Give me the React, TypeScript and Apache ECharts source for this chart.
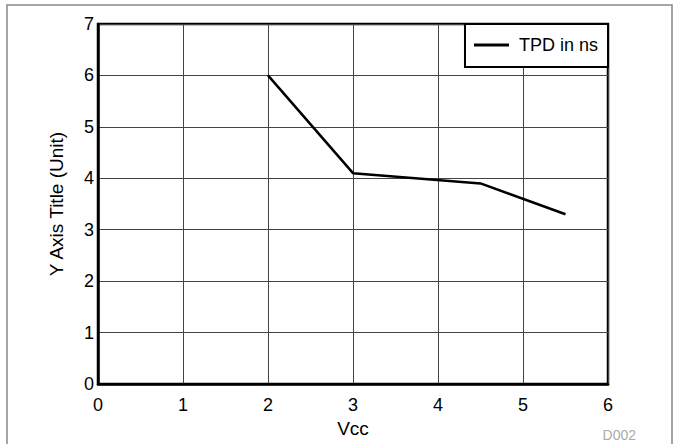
import React, { useEffect, useRef } from "react";
import * as echarts from "echarts";

const xValues = [2, 3, 4.5, 5.5];
const tpdValues = [6.0, 4.1, 3.9, 3.3];
const seriesName = "TPD in ns";
const xAxisTitle = "Vcc";
const yAxisTitle = "Y Axis Title (Unit)";
const figureId = "D002";

const FONT = "'Liberation Sans', Arial, Helvetica, sans-serif";

export default function App() {
  const ref = useRef<HTMLDivElement>(null);
  useEffect(() => {
    if (!ref.current) return;
    const chart = echarts.init(ref.current, null, { renderer: "svg" });
    const data = xValues.map((x, i) => [x, tpdValues[i]]);
    chart.setOption({
      animation: false,
      backgroundColor: "#fff",
      textStyle: { fontFamily: FONT },
      grid: {
        left: 98,
        right: 66,
        top: 24,
        bottom: 60,
        show: true,
        borderColor: "#000",
        borderWidth: 2.5,
        backgroundColor: "transparent",
      },
      legend: {
        right: 66,
        top: 24,
        orient: "vertical",
        backgroundColor: "#fff",
        borderColor: "#000",
        borderWidth: 2,
        borderRadius: 0,
        padding: [11, 10, 12, 9],
        itemWidth: 35,
        itemHeight: 3,
        itemGap: 0,
        icon: "rect",
        textStyle: {
          fontFamily: FONT,
          fontSize: 18,
          color: "#000",
          lineHeight: 20,
          padding: [0, 0, 0, 5],
        },
        data: [{ name: seriesName, itemStyle: { color: "#000" } }],
      },
      xAxis: {
        type: "value",
        min: 0,
        max: 6,
        interval: 1,
        name: xAxisTitle,
        nameLocation: "middle",
        nameGap: 27,
        nameTextStyle: { fontFamily: FONT, fontSize: 19, color: "#000" },
        axisLine: { show: true, lineStyle: { color: "#000", width: 2.5 } },
        axisTick: { show: false },
        axisLabel: { margin: 12, fontFamily: FONT, fontSize: 18, color: "#000" },
        splitLine: { show: true, lineStyle: { color: "#444", width: 1 } },
      },
      yAxis: {
        type: "value",
        min: 0,
        max: 7,
        interval: 1,
        name: yAxisTitle,
        nameLocation: "middle",
        nameGap: 32,
        nameTextStyle: { fontFamily: FONT, fontSize: 19, color: "#000" },
        axisLine: { show: true, lineStyle: { color: "#000", width: 2.5 } },
        axisTick: { show: false },
        axisLabel: { margin: 4, fontFamily: FONT, fontSize: 18, color: "#000" },
        splitLine: { show: true, lineStyle: { color: "#444", width: 1 } },
      },
      series: [
        {
          name: seriesName,
          type: "line",
          data,
          showSymbol: false,
          symbol: "none",
          lineStyle: { color: "#000", width: 2.5 },
          itemStyle: { color: "#000" },
          z: 3,
        },
      ],
      graphic: [
        {
          type: "rect",
          shape: { x: 7, y: 5, width: 665, height: 450 },
          style: { fill: "none", stroke: "#888", lineWidth: 1.5 },
          silent: true,
        },
        {
          type: "text",
          right: 38,
          bottom: 2,
          style: { text: figureId, fontFamily: FONT, fontSize: 14, fill: "#aaa" },
          silent: true,
        },
      ],
    });
    return () => chart.dispose();
  }, []);
  return (
    <div
      ref={ref}
      style={{ position: "fixed", left: 0, top: 0, width: 674, height: 444 }}
    />
  );
}
